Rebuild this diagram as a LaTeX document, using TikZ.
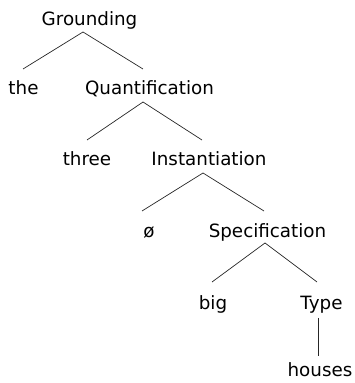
\documentclass[tikz,border=0pt]{standalone}
\usepackage{fontspec}
\setmainfont{DejaVu Sans}
\begin{document}
\begin{tikzpicture}[x=1pt,y=1pt,
  lbl/.style={anchor=base,inner sep=0pt,font=\fontsize{18.3}{22}\selectfont},
  branch/.style={line width=0.7pt,draw=black!85}]
\useasboundingbox (0,0) rectangle (355,383);

% labels of the tree, placed on their baselines
\node[lbl] (g)      at (89.5,357) {Grounding};
\node[lbl] (the)    at (23.5,288) {the};
\node[lbl] (q)      at (149.5,288) {Quantification};
\node[lbl] (three)  at (87,217)   {three};
\node[lbl] (inst)   at (209,217)  {Instantiation};
\node[lbl] (zero)   at (149,145)  {ø};
\node[lbl] (spec)   at (267.5,145) {Specification};
\node[lbl] (big)    at (213,73)   {big};
\node[lbl] (type)   at (321.5,73) {Type};
\node[lbl] (houses) at (320,6)    {houses};

% branches
\draw[branch] ([shift={(-6.5,-6)}]g.base) -- ([shift={(-0.5,26)}]the.base);
\draw[branch] ([shift={(-6.5,-6)}]g.base) -- ([shift={(-6.5,26)}]q.base);
\draw[branch] ([shift={(-6.5,-7)}]q.base) -- ([shift={(0,26)}]three.base);
\draw[branch] ([shift={(-6.5,-7)}]q.base) -- ([shift={(-7,26)}]inst.base);
\draw[branch] ([shift={(-6,-7)}]inst.base) -- ([shift={(-7,27)}]zero.base);
\draw[branch] ([shift={(-6,-7)}]inst.base) -- ([shift={(-3.5,27)}]spec.base);
\draw[branch] ([shift={(-2.5,-5)}]spec.base) -- ([shift={(-1,28)}]big.base);
\draw[branch] ([shift={(-2.5,-5)}]spec.base) -- ([shift={(-4.5,28)}]type.base);
\draw[branch] ([shift={(-3.5,-8)}]type.base) -- ([shift={(-2,21)}]houses.base);
\end{tikzpicture}
\end{document}
